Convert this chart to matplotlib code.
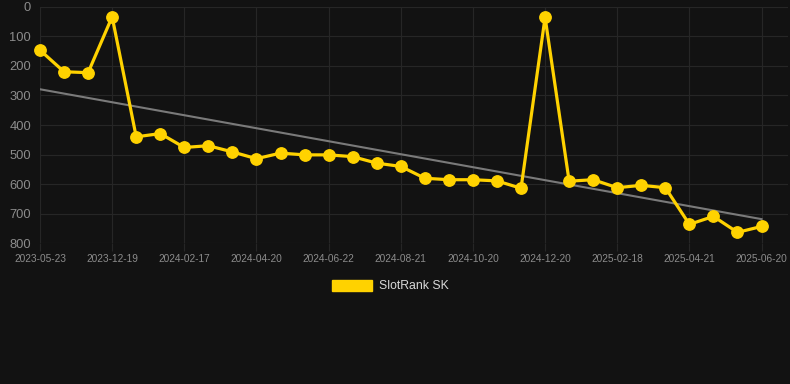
import numpy as np
import matplotlib
matplotlib.use("Agg")
import matplotlib.pyplot as plt
from matplotlib.patches import Patch

# rank values (lower = better, axis inverted)
ranks = [147, 220, 223, 34, 440, 429, 476, 470, 491, 514,
         495, 501, 501, 507, 529, 540, 580, 585, 585, 589,
         614, 36, 590, 585, 612, 604, 612, 736, 709, 763, 743]
tick_labels = ["2023-05-23", "2023-12-19", "2024-02-17", "2024-04-20",
               "2024-06-22", "2024-08-21", "2024-10-20", "2024-12-20",
               "2025-02-18", "2025-04-21", "2025-06-20"]
tick_step = 3
y_ticks = [0, 100, 200, 300, 400, 500, 600, 700, 800]
series_name = "SlotRank SK"

BG = "#121212"
GRID = "#262626"
YELLOW = "#FFD200"
TXT = "#8c8c8c"

plt.rcParams['font.family'] = ['Liberation Sans', 'DejaVu Sans']

fig = plt.figure(figsize=(7.9, 3.84), dpi=100, facecolor=BG)
ax = fig.add_axes([40/790, 1 - 243.3/384, 748/790, (243.3 - 6.7)/384])
ax.set_facecolor(BG)

x = np.arange(len(ranks))

# trend line (linear fit)
k, b = np.polyfit(x, ranks, 1)
ax.plot(x, k*x + b, color="#7a7a7a", lw=1.5, zorder=2)

ax.plot(x, ranks, color=YELLOW, lw=2.3, marker="o", markersize=8.2,
        markerfacecolor=YELLOW, markeredgecolor=YELLOW, zorder=3,
        clip_on=False)

ax.set_xlim(0, 31.1)
ax.set_ylim(800, 0)
ax.set_yticks(y_ticks)
ax.set_xticks(x[::tick_step])
ax.set_xticklabels(tick_labels)

ax.grid(True, color=GRID, lw=0.8)
for s in ax.spines.values():
    s.set_visible(False)
ax.tick_params(axis="y", length=0, pad=6.5, labelsize=9.3, labelcolor=TXT)
ax.tick_params(axis="x", length=6, color=GRID, pad=2, labelsize=7.3, labelcolor=TXT)

fig.legend(handles=[Patch(facecolor=YELLOW, edgecolor=YELLOW, label=series_name)],
           loc="center", bbox_to_anchor=(0.494, 0.255), frameon=False,
           handlelength=3.3, handleheight=1.0, handletextpad=0.5,
           fontsize=8.8, labelcolor="#d8d8d8")

fig.savefig("out.png", dpi=100, facecolor=BG)
